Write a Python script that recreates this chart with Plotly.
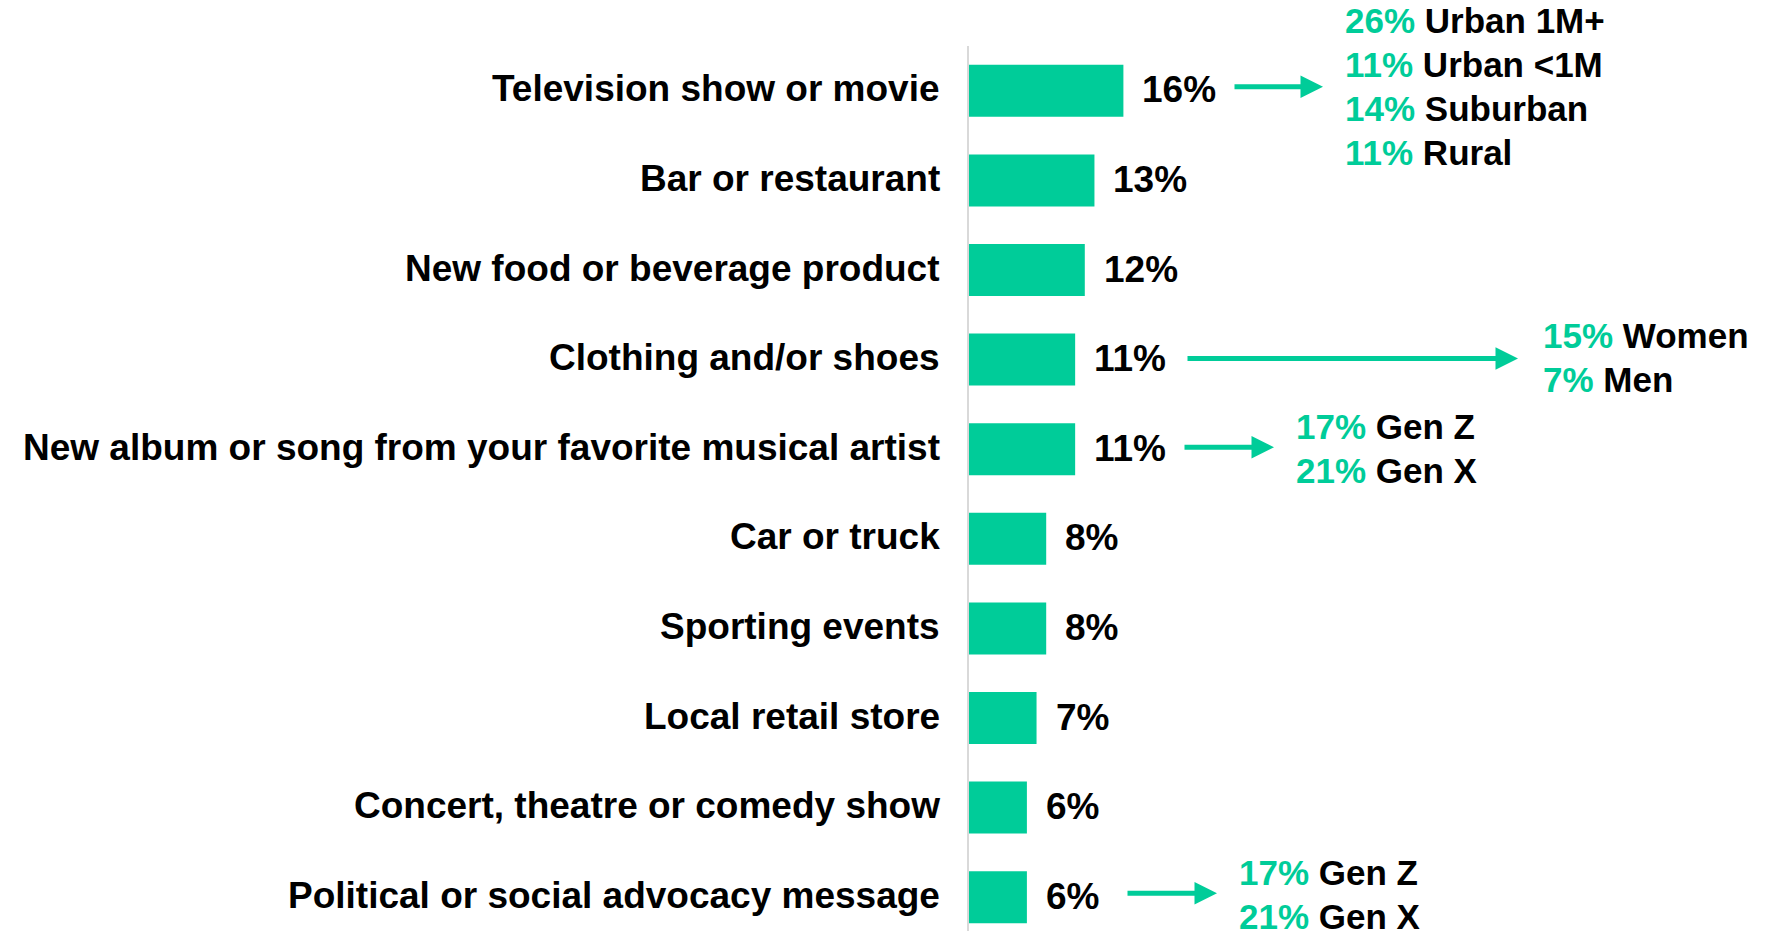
import plotly.graph_objects as go

# ---- data -------------------------------------------------------------
categories = [
    "Television show or movie",
    "Bar or restaurant",
    "New food or beverage product",
    "Clothing and/or shoes",
    "New album or song from your favorite musical artist",
    "Car or truck",
    "Sporting events",
    "Local retail store",
    "Concert, theatre or comedy show",
    "Political or social advocacy message",
]
values = [16, 13, 12, 11, 11, 8, 8, 7, 6, 6]

tv_breakout_pcts = [26, 11, 14, 11]
tv_breakout_labels = ["Urban 1M+", "Urban <1M", "Suburban", "Rural"]
clothing_breakout_pcts = [15, 7]
clothing_breakout_labels = ["Women", "Men"]
album_breakout_pcts = [17, 21]
album_breakout_labels = ["Gen Z", "Gen X"]
political_breakout_pcts = [17, 21]
political_breakout_labels = ["Gen Z", "Gen X"]

# ---- styling / geometry ----------------------------------------------
GREEN = "#00CC99"
FONT = "Liberation Sans, Arial, Helvetica, sans-serif"
W, H = 1785, 931
PLOT_LEFT = 969
PLOT_TOP = 46
PX_PER_PCT = 9.65
ROW_PX = 89.6

x_max = (W - PLOT_LEFT) / PX_PER_PCT
y_bottom = (H - PLOT_TOP) / ROW_PX - 0.5


def px_to_x(px):
    return (px - PLOT_LEFT) / PX_PER_PCT


idx = list(range(len(categories)))

fig = go.Figure(
    go.Bar(
        x=values,
        y=idx,
        orientation="h",
        marker=dict(color=GREEN, line=dict(width=0)),
        width=0.58,
        hoverinfo="skip",
    )
)

annotations = []

# category labels on the left
for i, cat in zip(idx, categories):
    annotations.append(dict(
        x=0, y=i, xref="x", yref="y", text=cat, showarrow=False,
        xanchor="right", yanchor="middle", xshift=-27, yshift=2,
        font=dict(family=FONT, size=37, color="black", weight="bold"),
    ))

# value labels after each bar
for i, v in zip(idx, values):
    annotations.append(dict(
        x=v, y=i, xref="x", yref="y", text=f"{v}%", showarrow=False,
        xanchor="left", yanchor="middle", xshift=17, yshift=1,
        font=dict(family=FONT, size=37, color="black", weight="bold"),
    ))

# breakouts: (row, tail px, head px, arrow y offset, text px, first line offset, pcts, labels)
breakouts = [
    (0, 1233, 1323, -4, 1343, -70, tv_breakout_pcts, tv_breakout_labels),
    (3, 1186, 1518, -1, 1541, -24, clothing_breakout_pcts, clothing_breakout_labels),
    (4, 1183, 1274, -2, 1294, -23, album_breakout_pcts, album_breakout_labels),
    (9, 1126, 1217, -4, 1237, -25, political_breakout_pcts, political_breakout_labels),
]
LINE_STEP = 44

for row, tail, head, ay_off, tx, first, pcts, labels in breakouts:
    annotations.append(dict(
        x=px_to_x(head), y=row, ax=px_to_x(tail), ay=row,
        xref="x", yref="y", axref="x", ayref="y",
        text="", showarrow=True, arrowhead=2, arrowsize=0.9,
        arrowwidth=5, arrowcolor=GREEN, yshift=-ay_off,
    ))
    for k, (p, lab) in enumerate(zip(pcts, labels)):
        annotations.append(dict(
            x=px_to_x(tx), y=row, xref="x", yref="y",
            text=f'<span style="color:{GREEN}">{p}%</span> {lab}',
            showarrow=False, xanchor="left", yanchor="middle",
            yshift=-(first + k * LINE_STEP),
            font=dict(family=FONT, size=35, color="black", weight="bold"),
        ))

fig.update_layout(
    width=W, height=H,
    margin=dict(l=PLOT_LEFT, r=0, t=PLOT_TOP, b=0, autoexpand=False),
    paper_bgcolor="white", plot_bgcolor="white",
    showlegend=False,
    bargap=0.42,
    xaxis=dict(range=[0, x_max], visible=False, fixedrange=True),
    yaxis=dict(
        range=[y_bottom, -0.5], showticklabels=False, showgrid=False,
        zeroline=False, showline=True, linecolor="#D9D9D9", linewidth=2,
        ticks="", fixedrange=True,
    ),
    annotations=annotations,
)

fig.write_html("out.html", config={"displayModeBar": False})
